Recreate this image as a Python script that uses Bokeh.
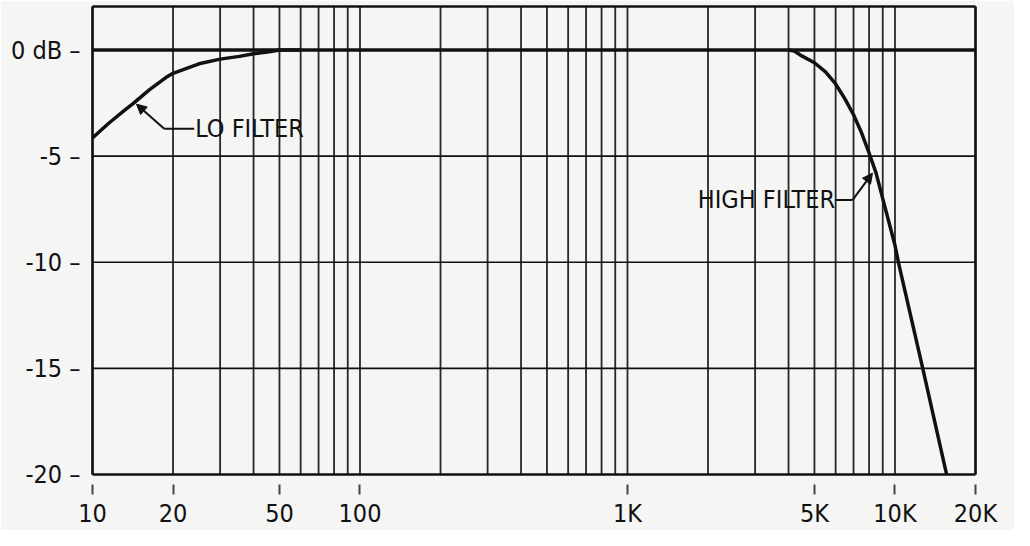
from bokeh.plotting import figure
from bokeh.models import FixedTicker, Label, Arrow, NormalHead, Range1d
from bokeh.embed import file_html
from bokeh.resources import INLINE

# ---- data ----
lo_freq = [10, 10.6, 11.5, 13.3, 14.1, 16.3, 18.8, 20, 25, 30, 35.4, 40, 45.7, 50, 60]
lo_db = [-4.15, -3.85, -3.45, -2.8, -2.55, -1.88, -1.3, -1.1, -0.65, -0.43, -0.3, -0.18, -0.08, 0.0, 0.0]

hi_freq = [4000, 4200, 4500, 5000, 5500, 6000, 6500, 7000, 7500, 8000, 8500,
           9000, 10000, 10300, 12700, 15600]
hi_db = [0.0, -0.05, -0.29, -0.6, -1.03, -1.6, -2.3, -3.05, -3.9, -4.85, -5.8,
         -7.0, -9.2, -10.0, -15.0, -20.0]

x_tick_vals = [10, 20, 50, 100, 1000, 5000, 10000, 20000]
x_tick_text = ["10", "20", "50", "100", "1K", "5K", "10K", "20K"]
y_tick_vals = [0, -5, -10, -15, -20]
y_tick_text = ["0 dB", "-5", "-10", "-15", "-20"]

grid_freqs = [10, 20, 30, 40, 50, 60, 70, 80, 90,
              100, 200, 300, 400, 500, 600, 700, 800, 900,
              1000, 2000, 3000, 4000, 5000, 6000, 7000, 8000, 9000,
              10000, 20000]
grid_db = [-15, -10, -5]

X0, X1 = 10, 20000
Y0, Y1 = -20, 2.05

FONT = "DejaVu Sans Condensed"
FS = "25px"
BG = "#f5f5f3"
INK = "#111111"

BOX_W, BOX_H = 883, 470
ppd = BOX_W / 3.30103          # pixels per decade
ppdb = BOX_H / (Y1 - Y0)       # pixels per dB
PAD = 2                        # px of frame outside the drawn box
TICK_GAP, TICK_LEN = 10, 10    # x tick marks sit below the box

x_lo = X0 * 10 ** (-PAD / ppd)
x_hi = X1 * 10 ** (PAD / ppd)
y_lo = Y0 - TICK_GAP / ppdb
y_hi = Y1 + PAD / ppdb

p = figure(width=1014, height=530, x_axis_type="log",
           x_range=Range1d(x_lo, x_hi), y_range=Range1d(y_lo, y_hi),
           output_backend="svg", toolbar_location=None,
           min_border_left=92 - PAD, min_border_right=39 - PAD,
           min_border_top=6 - PAD, min_border_bottom=44,
           background_fill_color=BG, border_fill_color=BG)
p.outline_line_color = None
p.xgrid.visible = False
p.ygrid.visible = False

# grid lines limited to the chart box
n = len(grid_freqs)
p.segment(x0=grid_freqs, y0=[Y0] * n, x1=grid_freqs, y1=[Y1] * n,
          line_color=INK, line_width=1.8, line_alpha=0.9)
m = len(grid_db)
p.segment(x0=[X0] * m, y0=grid_db, x1=[X1] * m, y1=grid_db,
          line_color=INK, line_width=1.6)

# chart box
p.segment(x0=[X0, X0, X0, X1], y0=[Y0, Y1, Y0, Y0],
          x1=[X1, X1, X0, X1], y1=[Y0, Y1, Y1, Y1],
          line_color=INK, line_width=2.5)

# x axis: its (invisible) line sits TICK_GAP below the box, ticks hang below it
xa = p.xaxis[0]
xa.ticker = FixedTicker(ticks=x_tick_vals)
xa.major_label_overrides = {v: t for v, t in zip(x_tick_vals, x_tick_text)}
xa.axis_line_color = BG
xa.axis_line_width = 1
xa.minor_tick_line_color = None
xa.major_tick_line_color = "#444444"
xa.major_tick_line_width = 2
xa.major_tick_in = 0
xa.major_tick_out = TICK_LEN
xa.major_label_standoff = 4
xa.major_label_text_font = FONT
xa.major_label_text_font_size = FS
xa.major_label_text_color = INK

ya = p.yaxis[0]
ya.ticker = FixedTicker(ticks=y_tick_vals)
ya.major_label_overrides = {v: t + " \u2013" for v, t in zip(y_tick_vals, y_tick_text)}
ya.axis_line_color = None
ya.minor_tick_line_color = None
ya.major_tick_line_color = None
ya.major_tick_in = 0
ya.major_tick_out = 0
ya.major_label_standoff = 12 - PAD
ya.major_label_text_font = FONT
ya.major_label_text_font_size = FS
ya.major_label_text_color = INK

# 0 dB reference line
p.segment(x0=[X0], y0=[0], x1=[X1], y1=[0], line_color=INK, line_width=3.5)

# response curves
p.line(lo_freq, lo_db, line_color=INK, line_width=3.5, line_join="round")
p.line(hi_freq, hi_db, line_color=INK, line_width=3.5, line_join="round")

# annotations
p.add_layout(Label(x=24.2, y=-3.68, text="LO FILTER", text_baseline="middle",
                   text_font=FONT, text_font_size=FS, text_color=INK))
p.add_layout(Arrow(end=None, x_start=18.54, y_start=-3.71, x_end=24.0, y_end=-3.71,
                   line_color=INK, line_width=2))
p.add_layout(Arrow(end=NormalHead(size=10, fill_color=INK, line_color=INK),
                   x_start=18.54, y_start=-3.71, x_end=14.6, y_end=-2.55,
                   line_color=INK, line_width=2))

p.add_layout(Label(x=5970, y=-7.03, text="HIGH FILTER", text_align="right",
                   text_baseline="middle",
                   text_font=FONT, text_font_size=FS, text_color=INK))
p.add_layout(Arrow(end=None, x_start=6000, y_start=-7.07, x_end=6935, y_end=-7.07,
                   line_color=INK, line_width=2))
p.add_layout(Arrow(end=NormalHead(size=10, fill_color=INK, line_color=INK),
                   x_start=6935, y_start=-7.07, x_end=8240, y_end=-5.8,
                   line_color=INK, line_width=2))

open("out.html", "w").write(file_html(p, INLINE))
